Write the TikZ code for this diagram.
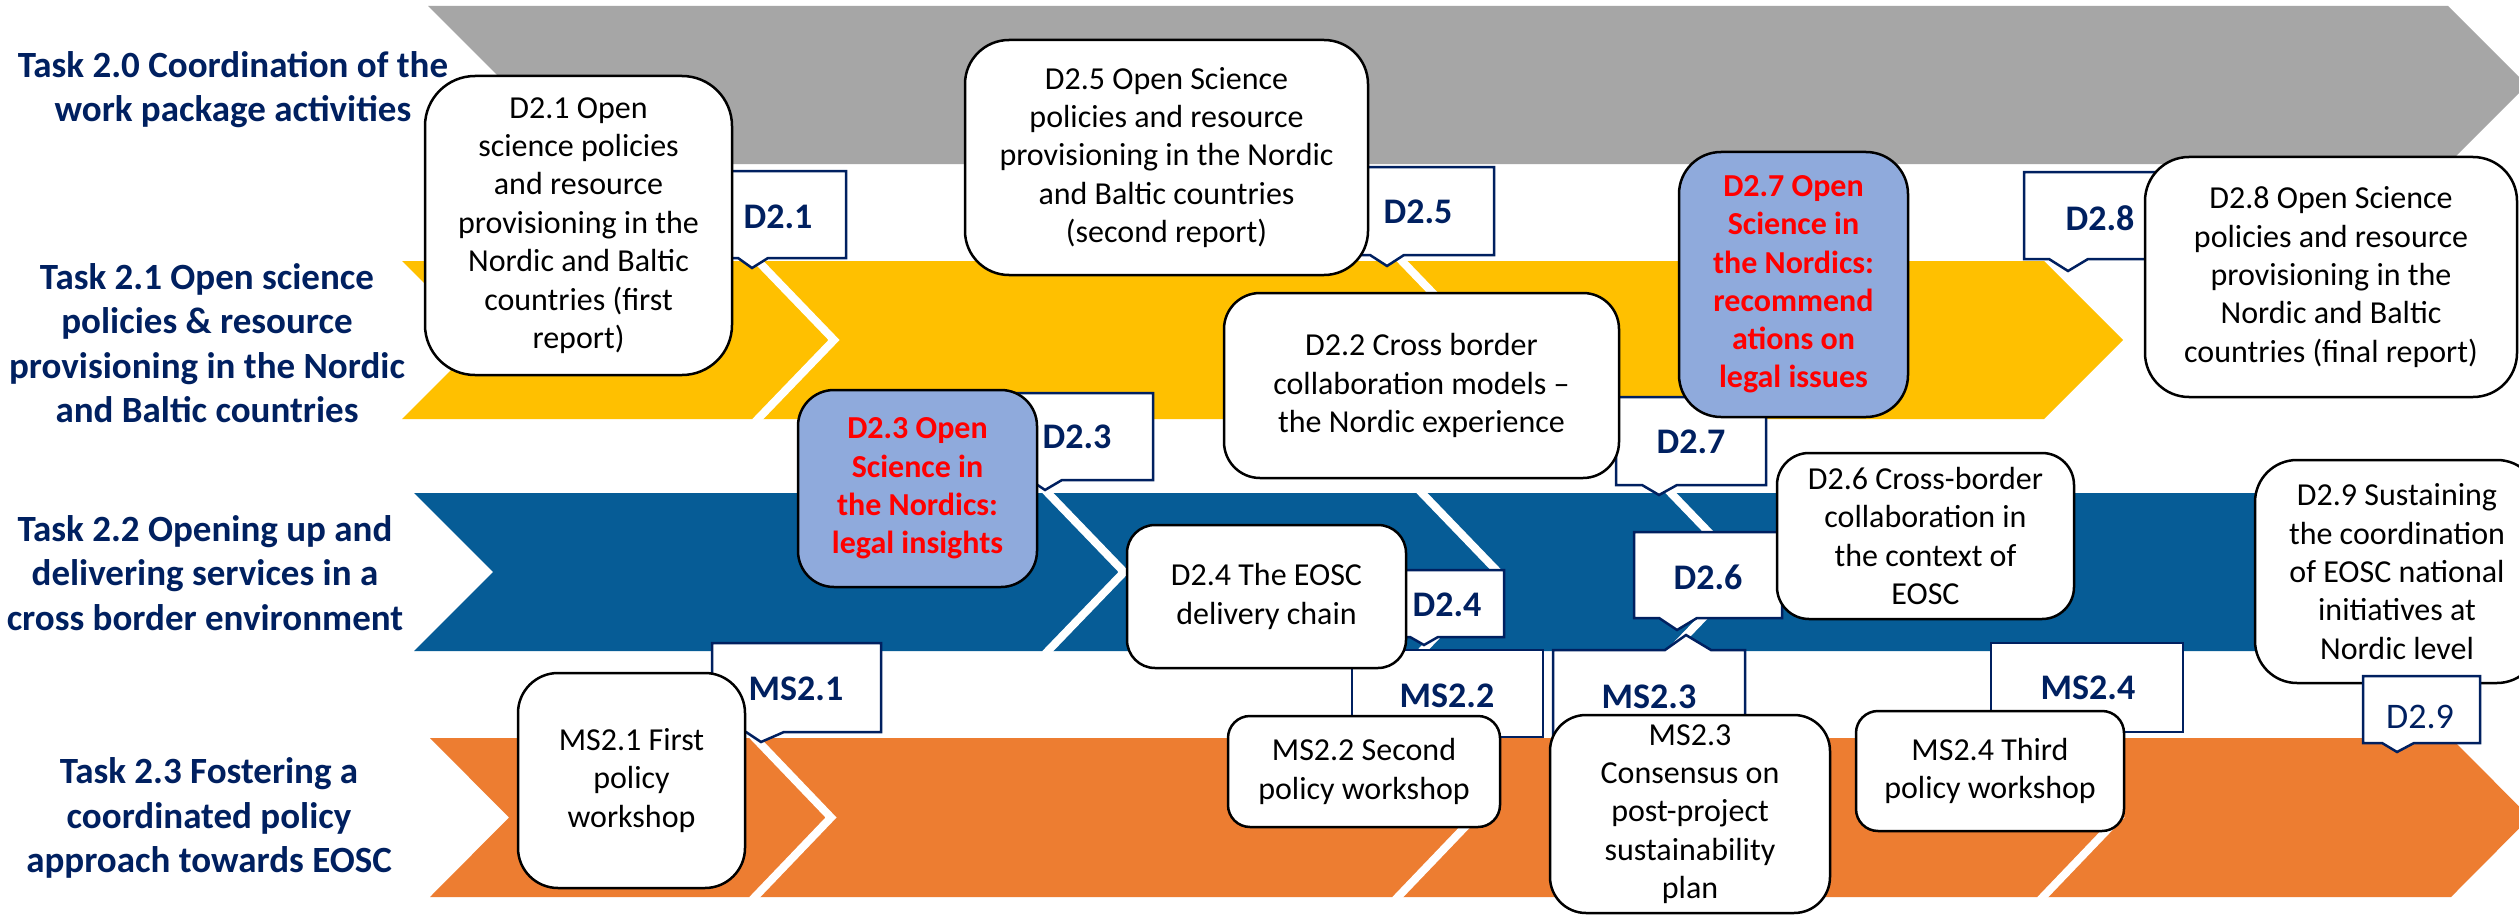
\documentclass[tikz,border=0pt]{standalone}
\usepackage{fontspec}
\setmainfont{Carlito}
\definecolor{navy}{RGB}{0,32,96}
\definecolor{bandgray}{RGB}{166,166,166}
\definecolor{bandyellow}{RGB}{255,192,0}
\definecolor{bandblue}{RGB}{6,92,150}
\definecolor{bandorange}{RGB}{237,125,49}
\definecolor{lightblue}{RGB}{143,170,220}
\definecolor{redtext}{RGB}{255,0,0}
\tikzset{
  sepline/.style={white, line width=8pt},
  task/.style={font=\bfseries\fontsize{37}{44.5}\selectfont, text=navy, align=center, inner sep=0pt},
  wbox/.style={draw=black, line width=2.5pt, fill=white, align=center, inner sep=0pt, font=\fontsize{32}{38.4}\selectfont},
  rbox/.style={wbox, fill=lightblue, text=redtext, font=\bfseries\fontsize{32}{38.2}\selectfont},
  callout/.style={draw=navy, line width=2.5pt, fill=white, line join=miter},
  clabel/.style={font=\bfseries\fontsize{36}{43}\selectfont, text=navy, inner sep=0pt},
  clabelr/.style={font=\fontsize{36}{43}\selectfont, text=navy, inner sep=0pt},
}
\begin{document}
\begin{tikzpicture}[x=1pt,y=-1pt]
\useasboundingbox (0,0) rectangle (2519,915);
\fill[white] (0,0) rectangle (2519,915);
% bands
\fill[bandgray] (428,6) -- (2448,6) -- (2527,85) -- (2448,164) -- (428,164) -- (507,85) -- cycle;
\fill[bandyellow] (402,261) -- (2044,261) -- (2123,340) -- (2044,419) -- (402,419) -- (481,340) -- cycle;
\fill[bandblue] (414,493) -- (2545,493) -- (2545,651) -- (414,651) -- (493,572) -- cycle;
\fill[bandorange] (430,738) -- (2451,738) -- (2530,817.5) -- (2451,897) -- (430,897) -- (509,817.5) -- cycle;
% separators
\draw[sepline] (755,258) -- (834,340) -- (755,422);
\draw[sepline] (1399,258) -- (1478,340) -- (1399,422);
\draw[sepline] (1045,490) -- (1124,572) -- (1045,654);
\draw[sepline] (1419,490) -- (1498,572) -- (1419,654);
\draw[sepline] (1668,490) -- (1747,572) -- (1668,654);
\draw[sepline] (752,735) -- (831,817.5) -- (752,900);
\draw[sepline] (1395,735) -- (1474,817.5) -- (1395,900);
\draw[sepline] (2040,735) -- (2119,817.5) -- (2040,900);
% task labels
\node[task] (t20) at (233,89.5) {Task 2.0 Coordination of the\\work package activities};
\node[task] (t21) at (207,343) {Task 2.1 Open science\\policies \& resource\\provisioning in the Nordic\\and Baltic countries};
\node[task] (t22) at (205,573) {Task 2.2 Opening up and\\delivering services in a\\cross border environment};
\node[task] (t23) at (209,818) {Task 2.3 Fostering a\\coordinated policy\\approach towards EOSC};
% callouts
\draw[callout] (710,171) -- (846,171) -- (846,258) -- (768,258) -- (752,268) -- (738,258) -- (710,258) -- cycle;
\node[clabel] (l21) at (778,217) {D2.1};
\draw[callout] (1342,167) -- (1494,167) -- (1494,255) -- (1404,255) -- (1387,266) -- (1370,255) -- (1342,255) -- cycle;
\node[clabel] (l25) at (1418,212) {D2.5};
\draw[callout] (1616,397) -- (1766,397) -- (1766,485) -- (1677,485) -- (1659,495) -- (1642,485) -- (1616,485) -- cycle;
\node[clabel] (l27) at (1691,442) {D2.7};
\draw[callout] (2024,172) -- (2176,172) -- (2176,259) -- (2088,259) -- (2068,271) -- (2049,259) -- (2024,259) -- cycle;
\node[clabel] (l28) at (2100,218) {D2.8};
\draw[callout] (1001,393) -- (1153,393) -- (1153,480) -- (1062,480) -- (1045,490) -- (1030,480) -- (1001,480) -- cycle;
\node[clabel] (l23) at (1077,437) {D2.3};
\draw[callout] (1390,570) -- (1504,570) -- (1504,637) -- (1438,637) -- (1424,645) -- (1410,637) -- (1390,637) -- cycle;
\node[clabel] (l24) at (1447,605) {D2.4};
\draw[callout] (1634,532) -- (1782,532) -- (1782,618) -- (1697,618) -- (1677,630) -- (1659,618) -- (1634,618) -- cycle;
\node[clabel] (l26) at (1708,577) {D2.6};
\draw[callout] (712,643) -- (881,643) -- (881,732) -- (784,732) -- (761,742) -- (746,732) -- (712,732) -- cycle;
\node[clabel] (lm21) at (796,689) {MS2.1};
\draw[callout] (1352,650) -- (1543,650) -- (1543,737) -- (1352,737) -- cycle;
\node[clabel] (lm22) at (1447,696) {MS2.2};
\draw[callout] (1553,650) -- (1665,650) -- (1686,635) -- (1711,650) -- (1745,650) -- (1745,737) -- (1553,737) -- cycle;
\node[clabel] (lm23) at (1649,697) {MS2.3};
\draw[callout] (1991,643) -- (2183,643) -- (2183,732) -- (1991,732) -- cycle;
\node[clabel] (lm24) at (2088,688) {MS2.4};
% boxes
\node[wbox, rounded corners=50pt, minimum width=307pt, minimum height=299pt] (d21) at (578.5,225.5)
  {D2.1 Open\\science policies\\and resource\\provisioning in the\\Nordic and Baltic\\countries (first\\report)};
\node[wbox, rounded corners=44pt, minimum width=403pt, minimum height=235pt] (d25) at (1166.5,157.5)
  {D2.5 Open Science\\policies and resource\\provisioning in the Nordic\\and Baltic countries\\(second report)};
\node[wbox, rounded corners=36pt, minimum width=395pt, minimum height=185pt] (d22) at (1421.5,385.5)
  {D2.2 Cross border\\collaboration models –\\the Nordic experience};
\node[rbox, rounded corners=42pt, minimum width=229pt, minimum height=265pt] (d27) at (1793.5,284.5)
  {D2.7 Open\\Science in\\the Nordics:\\recommend\\ations on\\legal issues};
\node[wbox, rounded corners=44pt, minimum width=372pt, minimum height=240pt] (d28) at (2331,277)
  {D2.8 Open Science\\policies and resource\\provisioning in the\\Nordic and Baltic\\countries (final report)};
\node[rbox, rounded corners=36pt, minimum width=239pt, minimum height=197pt] (d23) at (917.5,488.5)
  {D2.3 Open\\Science in\\the Nordics:\\legal insights};
\node[wbox, rounded corners=28pt, minimum width=279pt, minimum height=143pt] (d24) at (1266.5,596.5)
  {D2.4 The EOSC\\delivery chain};
\node[wbox, rounded corners=32pt, minimum width=297pt, minimum height=166pt] (d26) at (1925.5,536)
  {D2.6 Cross-border\\collaboration in\\the context of\\EOSC};
\node[wbox, rounded corners=42pt, minimum width=284pt, minimum height=223pt] (d29) at (2397,571.5)
  {D2.9 Sustaining\\the coordination\\of EOSC national\\initiatives at\\Nordic level};
\node[wbox, rounded corners=40pt, minimum width=227pt, minimum height=215pt] (m21) at (631.5,780.5)
  {MS2.1 First\\policy\\workshop};
\node[wbox, rounded corners=22pt, minimum width=272pt, minimum height=111pt] (m22) at (1364,771.5)
  {MS2.2 Second\\policy workshop};
\node[wbox, rounded corners=36pt, minimum width=280pt, minimum height=198pt] (m23) at (1690,814)
  {MS2.3\\Consensus on\\post-project\\sustainability\\plan};
\node[wbox, rounded corners=22pt, minimum width=268pt, minimum height=120pt] (m24) at (1990,771)
  {MS2.4 Third\\policy workshop};
% D2.9 callout in front
\draw[callout] (2363,676) -- (2480,676) -- (2480,743) -- (2414,743) -- (2397,752) -- (2382,743) -- (2363,743) -- cycle;
\node[clabelr] (l29) at (2420,717) {D2.9};
\end{tikzpicture}
\end{document}
